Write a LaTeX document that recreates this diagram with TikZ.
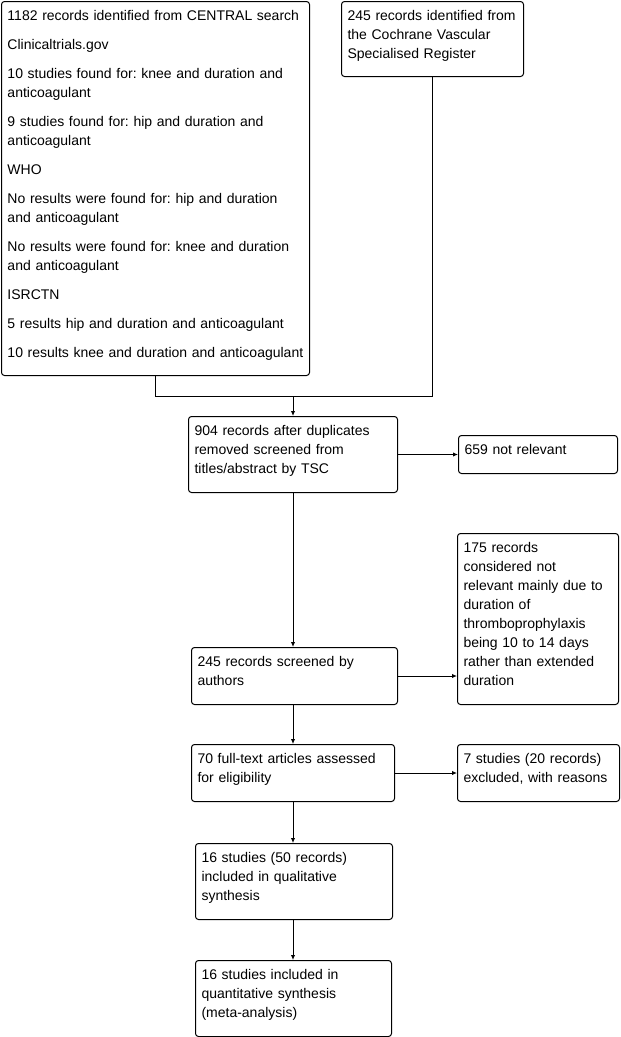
\documentclass[tikz,border=0pt]{standalone}
\usepackage{fontspec}
\setmainfont{Liberation Sans}
\frenchspacing
\usepackage{tikz}
\usetikzlibrary{arrows.meta,positioning,calc}
\tikzset{
  pbox/.style={rounded corners=3pt, draw=black, fill=white, line width=1pt, align=left, inner xsep=6pt, inner ysep=8pt, text height=11pt, anchor=north west, font=\fontsize{14}{19}\selectfont},
  flow/.style={-{Latex[length=5pt,width=4.5pt]}, line width=1pt, draw=black},
  link/.style={line width=1pt, draw=black},
}
\begin{document}
\begin{tikzpicture}[x=1pt,y=-1pt]
  \useasboundingbox (0,0) rectangle (621,1037);
  \node[pbox, text width=296pt, text depth=347pt] (search) at (1,1) {1182 records identified from CENTRAL search\\[10pt]
    Clinicaltrials.gov\\[10pt]
    10 studies found for: knee and duration and\\anticoagulant\\[10pt]
    9 studies found for: hip and duration and\\anticoagulant\\[10pt]
    WHO\\[10pt]
    No results were found for: hip and duration\\and anticoagulant\\[10pt]
    No results were found for: knee and duration\\and anticoagulant\\[10pt]
    ISRCTN\\[10pt]
    5 results hip and duration and anticoagulant\\[10pt]
    10 results knee and duration and anticoagulant};
  \node[pbox, text width=170pt, text depth=48pt] (cvsr) at (341,1) {245 records identified from\\the Cochrane Vascular\\Specialised Register};
  \node[pbox, text width=197pt, text depth=49pt] (dedup) at (188,416) {904 records after duplicates\\removed screened from\\titles/abstract by TSC};
  \node[pbox, text width=147pt, text depth=11pt] (notrel) at (458,435) {659 not relevant};
  \node[pbox, text width=149pt, text depth=144pt] (excl) at (457,533) {175 records\\considered not\\relevant mainly due to\\duration of\\thromboprophylaxis\\being 10 to 14 days\\rather than extended\\duration};
  \node[pbox, text width=194pt, text depth=30pt] (screen) at (191,647) {245 records screened by\\authors};
  \node[pbox, text width=191pt, text depth=30pt] (full) at (191,744) {70 full-text articles assessed\\for eligibility};
  \node[pbox, text width=150pt, text depth=30pt] (fullex) at (457,744) {7 studies (20 records)\\excluded, with reasons};
  \node[pbox, text width=185pt, text depth=49pt] (qual) at (195,843) {16 studies (50 records)\\included in qualitative\\synthesis};
  \node[pbox, text width=184pt, text depth=49pt] (quant) at (195,960) {16 studies included in\\quantitative synthesis\\(meta-analysis)};
  \coordinate (merge) at (293,396);
  % merge of the two sources
  \draw[link] (search.south) |- (cvsr.south |- merge) -- (cvsr.south);
  \draw[flow] (dedup.north |- merge) -- (dedup.north);
  \draw[flow] (dedup.east) -- (dedup.east -| notrel.west);
  \draw[flow] (dedup.south) -- (dedup.south |- screen.north);
  \draw[flow] (screen.east) -- (screen.east -| excl.west);
  \draw[flow] (screen.south -| dedup.south) -- (dedup.south |- full.north);
  \draw[flow] (full.east) -- (full.east -| fullex.west);
  \draw[flow] (full.south) -- (full.south |- qual.north);
  \draw[flow] (full.south |- qual.south) -- (full.south |- quant.north);
\end{tikzpicture}
\end{document}
